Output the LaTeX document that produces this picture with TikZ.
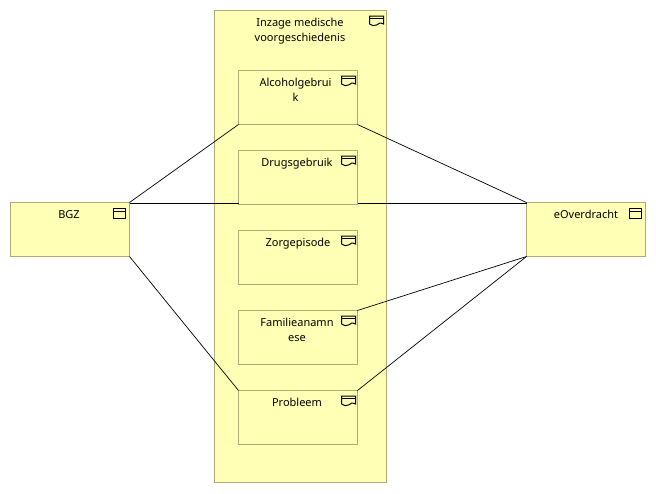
\documentclass[tikz,border=0pt]{standalone}
\usepackage{fontspec}
\setmainfont{Noto Sans}
\tikzset{
  x=1pt,y=-1pt,
  elembox/.style={draw=boxline,fill=boxfill,line width=0.8pt,rectangle,inner sep=0pt,outer sep=0pt,anchor=north west},
  leafbox/.style={elembox,minimum width=119pt,minimum height=54pt},
  lbl/.style={font=\fontsize{11}{15}\selectfont,align=center,inner sep=0pt,anchor=base,text=black},
  conn/.style={draw=black,line width=0.7pt},
  iconline/.style={draw=black,line width=1pt,line join=miter},
  pics/objicon/.style={code={
    \draw[iconline] (-6,-5) rectangle (6,5);
    \draw[iconline] (-6,-2) -- (6,-2);
  }},
  pics/repicon/.style={code={
    \draw[iconline] (-7,3) -- (-7,-5) -- (7,-5) -- (7,3)
      .. controls (4,1.5) and (2,2) .. (0,4)
      .. controls (-2,5.5) and (-5,4.5) .. (-7,3);
    \draw[iconline] (-7,-2.5) -- (7,-2.5);
  }}
}
\definecolor{boxfill}{RGB}{255,255,181}
\definecolor{boxline}{RGB}{172,172,116}
\begin{document}
\begin{tikzpicture}
\useasboundingbox[fill=white] (0,0) rectangle (656,493);
\node[elembox,minimum width=172pt,minimum height=472pt] (inzage) at (214.5,10.5) {};
\node[elembox,minimum width=119pt,minimum height=54pt] (bgz) at (10.5,202.5) {};
\node[elembox,minimum width=119pt,minimum height=54pt] (eov) at (526.5,202.5) {};
\node[leafbox] (alc) at (238.5,70.5) {};
\node[leafbox] (drg) at (238.5,150.5) {};
\node[leafbox] (zrg) at (238.5,230.5) {};
\node[leafbox] (fam) at (238.5,310.5) {};
\node[leafbox] (prb) at (238.5,390.5) {};
\draw[conn] (bgz.north east) -- (alc.south west);
\draw[conn] ([yshift=-1pt]bgz.north east) -- ([yshift=1pt]drg.south west);
\draw[conn] (bgz.south east) -- (prb.north west);
\draw[conn] (eov.north west) -- (alc.south east);
\draw[conn] ([yshift=-1pt]eov.north west) -- ([yshift=1pt]drg.south east);
\draw[conn] (eov.south west) -- (fam.north east);
\draw[conn] (eov.south west) -- (prb.north east);
\node[lbl] (t1) at (300,41) {Inzage medische\\voorgeschiedenis};
\node[lbl] (t2) at (295.5,101) {Alcoholgebrui\\k};
\node[lbl] (t3) at (297,166) {Drugsgebruik};
\node[lbl] (t4) at (298,246) {Zorgepisode};
\node[lbl] (t5) at (297,341) {Familieanamn\\ese};
\node[lbl] (t6) at (297,406) {Probleem};
\node[lbl] (t7) at (69,218) {BGZ};
\node[lbl] (t8) at (586,218) {eOverdracht};
\pic at (119,213) {objicon};
\pic at (635,213) {objicon};
\pic at (376.5,21) {repicon};
\pic at (348.5,81) {repicon};
\pic at (348.5,161) {repicon};
\pic at (348.5,241) {repicon};
\pic at (348.5,321) {repicon};
\pic at (348.5,401) {repicon};
\end{tikzpicture}
\end{document}
